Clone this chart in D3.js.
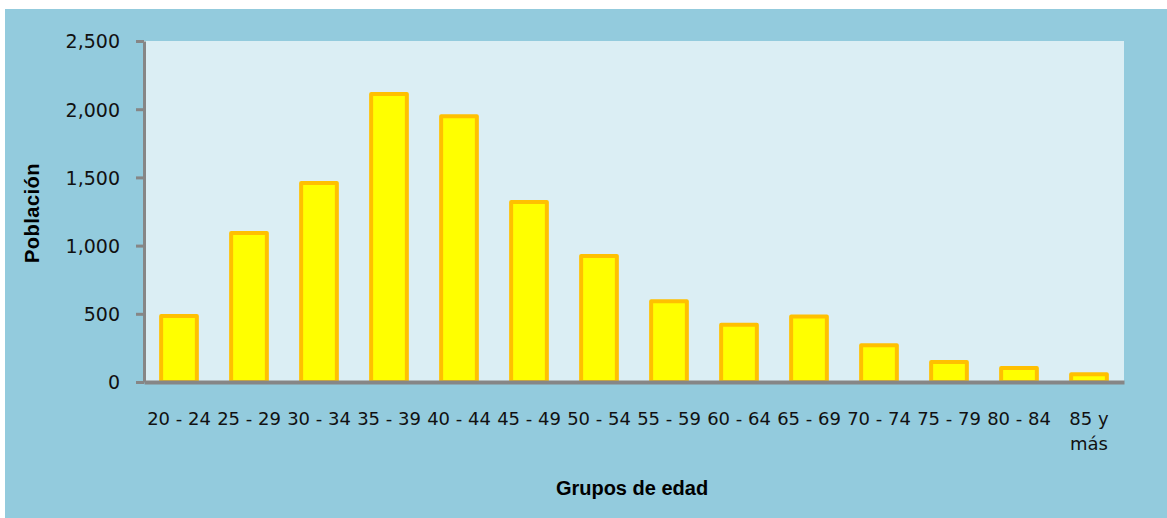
<!DOCTYPE html>
<html>
<head>
<meta charset="UTF-8">
<title>Población por grupos de edad</title>
<script src="https://d3js.org/d3.v7.min.js"></script>
<style>
  body { margin: 0; background: #ffffff; }
  .tick text { font-family: "DejaVu Sans", sans-serif; fill: #111; }
  .axis-title { font-family: "Liberation Sans", Arial, sans-serif; font-weight: bold; fill: #000; }
</style>
</head>
<body>
<svg width="1167" height="518"></svg>
<script>
// data
var groups = ["20 - 24", "25 - 29", "30 - 34", "35 - 39", "40 - 44", "45 - 49", "50 - 54",
              "55 - 59", "60 - 64", "65 - 69", "70 - 74", "75 - 79", "80 - 84", "85 y|más"];
var population = [484, 1092, 1459, 2111, 1948, 1320, 924, 592, 420, 481, 269, 147, 103, 56];
var yTicks = [0, 500, 1000, 1500, 2000, 2500];

var svg = d3.select("svg");

// outer frame
svg.append("rect")
    .attr("x", 5).attr("y", 9)
    .attr("width", 1162).attr("height", 509)
    .attr("fill", "#93cbdd");

var plotLeft = 144, plotRight = 1124, plotTop = 41, plotBottom = 382;

// plot area
svg.append("rect")
    .attr("x", plotLeft).attr("y", plotTop)
    .attr("width", plotRight - plotLeft).attr("height", plotBottom - plotTop)
    .attr("fill", "#dbeef4");

var x = d3.scaleBand().domain(groups).range([plotLeft, plotRight]).paddingInner(0.49).paddingOuter(0.245);
var y = d3.scaleLinear().domain([0, 2500]).range([plotBottom, plotTop]);

var data = groups.map(function (g, i) { return {group: g, value: population[i]}; });

svg.selectAll("rect.bar")
    .data(data)
    .enter()
    .append("rect")
    .attr("class", "bar")
    .attr("x", d => x(d.group))
    .attr("width", x.bandwidth())
    .attr("y", d => y(d.value))
    .attr("height", d => y(0) - y(d.value))
    .attr("fill", "#ffff00")
    .attr("stroke", "#ffc000")
    .attr("stroke-width", 4)
    .attr("stroke-linejoin", "round");

// y axis
var yAxis = svg.append("g")
    .attr("transform", "translate(" + plotLeft + ",0)")
    .call(d3.axisLeft(y).tickValues(yTicks).tickFormat(d3.format(",")).tickSize(8).tickSizeOuter(0).tickPadding(16));
yAxis.select(".domain").attr("stroke", "#868686").attr("stroke-width", 3);
yAxis.selectAll(".tick line").attr("stroke", "#868686").attr("stroke-width", 3);
yAxis.selectAll(".tick text").style("font-size", "19px").attr("dy", "0.36em");

// x axis
var xAxis = svg.append("g")
    .attr("transform", "translate(0," + plotBottom + ")")
    .call(d3.axisBottom(x).tickSize(0).tickSizeOuter(0).tickPadding(0));
xAxis.select(".domain").attr("stroke", "#868686").attr("stroke-width", 4);
xAxis.selectAll(".tick text")
    .style("font-size", "18px")
    .text(null)
    .attr("y", 0).attr("dy", null)
    .each(function (d) {
        var lines = d.split("|");
        var t = d3.select(this);
        lines.forEach(function (ln, i) {
            t.append("tspan").attr("x", 0).attr("y", 43 + i * 25).text(ln);
        });
    });

// axis titles
svg.append("text")
    .attr("class", "axis-title")
    .attr("transform", "translate(39,213) rotate(-90)")
    .attr("text-anchor", "middle")
    .style("font-size", "20px")
    .attr("letter-spacing", "0.5px")
    .text("Población");

svg.append("text")
    .attr("class", "axis-title")
    .attr("x", 632).attr("y", 495)
    .attr("text-anchor", "middle")
    .style("font-size", "20px")
    .text("Grupos de edad");
</script>
</body>
</html>
